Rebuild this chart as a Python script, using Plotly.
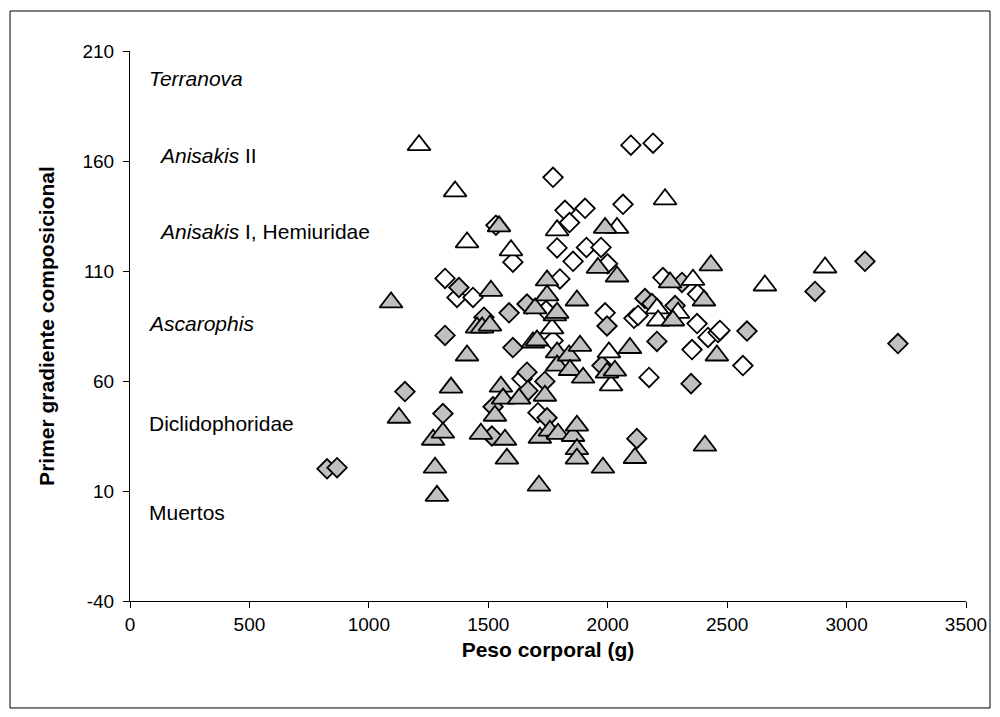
import plotly.graph_objects as go

# ---- data ----
gray_tri_x = [1093, 1126, 1269, 1277, 1285, 1310, 1344, 1411, 1453, 1474, 1507, 1511, 1469, 1528,
              1545, 1553, 1562, 1570, 1578, 1629, 1687, 1704, 1696, 1712, 1716, 1737, 1746, 1746,
              1758, 1779, 1788, 1788, 1788, 1792, 1838, 1842, 1855, 1871, 1871, 1871, 1871, 1884,
              1897, 1959, 1980, 1989, 1997, 2030, 2039, 2093, 2114, 2261, 2273, 2403, 2407, 2432,
              2457]
gray_tri_y = [95.7, 43.3, 33.3, 20.6, 7.8, 36.5, 57.0, 71.6, 84.3, 84.3, 85.2, 101.0, 36.0, 44.2,
              130.3, 57.4, 52.0, 33.3, 24.7, 52.0, 77.5, 78.4, 93.0, 12.4, 34.2, 53.3, 105.7, 98.9,
              37.4, 89.8, 91.0, 73.0, 67.0, 36.0, 71.6, 65.0, 35.0, 39.7, 29.0, 24.7, 96.6, 76.0,
              61.5, 111.4, 20.6, 129.6, 63.8, 64.7, 107.5, 75.0, 25.0, 104.8, 87.5, 96.6, 30.6, 112.6,
              71.6]

open_tri_x = [1210, 1361, 1411, 1595, 1767, 1788, 2005, 2014, 2039, 2206, 2211, 2240, 2294, 2357,
              2658, 2910]
open_tri_y = [167.2, 146.2, 123.0, 119.4, 83.9, 128.5, 73.0, 58.0, 129.6, 93.0, 87.5, 142.6, 91.0,
              106.0, 103.4, 111.6]

gray_dia_x = [825, 867, 1151, 1310, 1319, 1377, 1482, 1515, 1520, 1587, 1603, 1662, 1662, 1666,
              1737, 1746, 1976, 1997, 2122, 2156, 2185, 2206, 2282, 2311, 2349, 2583, 2868, 3077,
              3215]
gray_dia_y = [20.1, 20.6, 55.2, 45.2, 80.7, 102.5, 89.0, 35.0, 48.3, 91.0, 75.2, 95.0, 64.0, 55.6,
              59.8, 43.3, 67.0, 85.0, 33.8, 97.5, 95.2, 78.0, 94.3, 104.8, 58.8, 82.7, 100.7, 114.4,
              77.0]

open_dia_x = [1319, 1369, 1436, 1532, 1603, 1641, 1708, 1742, 1771, 1771, 1788, 1800, 1821, 1840,
              1855, 1905, 1911, 1972, 1989, 1999, 2064, 2097, 2110, 2127, 2173, 2190, 2231, 2353,
              2374, 2376, 2420, 2462, 2470, 2566]
open_dia_y = [106.6, 98.0, 98.0, 130.8, 114.0, 61.0, 45.6, 92.0, 152.6, 78.4, 120.5, 106.4, 137.6,
              132.0, 114.4, 138.5, 120.7, 120.7, 91.0, 113.3, 140.3, 167.2, 88.5, 89.8, 61.6, 168.1,
              107.0, 74.3, 86.1, 99.5, 79.8, 82.0, 83.0, 67.0]

x_ticks = [0, 500, 1000, 1500, 2000, 2500, 3000, 3500]
x_tick_text = ["0", "500", "1000", "1500", "2000", "2500", "3000", "3500"]
y_ticks = [-40, 10, 60, 110, 160, 210]
y_tick_text = ["-40", "10", "60", "110", "160", "210"]

label_texts = ["<i>Terranova</i>", "<i>Anisakis</i> II", "<i>Anisakis</i> I, Hemiuridae",
               "<i>Ascarophis</i>", "Diclidophoridae", "Muertos"]
label_x = [72, 115, 111, 68, 72, 72]
label_y = [197.3, 162.6, 128.0, 86.1, 40.6, 0.1]

GRAY = "#C0C0C0"
FONT = "Liberation Sans, Arial, sans-serif"

fig = go.Figure()

def add(xs, ys, symbol, fill, size):
    fig.add_trace(go.Scatter(
        x=xs, y=ys, mode="markers",
        marker=dict(symbol=symbol, size=size, color=fill,
                    line=dict(color="black", width=1.8)),
        showlegend=False, hoverinfo="x+y"))

add(open_dia_x, open_dia_y, "diamond", "white", 15)
add(gray_dia_x, gray_dia_y, "diamond", GRAY, 15)
add(open_tri_x, open_tri_y, "triangle-up", "white", 20)
add(gray_tri_x, gray_tri_y, "triangle-up", GRAY, 20)

for t, lx, ly in zip(label_texts, label_x, label_y):
    fig.add_annotation(x=lx, y=ly, xref="x", yref="y", text=t, showarrow=False,
                       xanchor="left", yanchor="middle",
                       font=dict(family=FONT, size=21, color="black"))

# outer chart frame
fig.add_shape(type="rect", xref="paper", yref="paper",
              x0=-0.1435, x1=1.0287, y0=-0.1945, y1=1.0727,
              line=dict(color="black", width=1), fillcolor="rgba(0,0,0,0)", layer="below")

fig.update_layout(
    width=984, height=701,
    margin=dict(l=122, r=26, t=43, b=108, autoexpand=False),
    paper_bgcolor="white", plot_bgcolor="white",
    font=dict(family=FONT, size=19, color="black"),
    xaxis=dict(range=[0, 3500], tickvals=x_ticks, ticktext=x_tick_text, showline=True,
               linecolor="black", linewidth=1, automargin=False,
               ticks="outside", ticklen=6, tickcolor="black", showgrid=False, zeroline=False,
               title=dict(text="<b>Peso corporal (g)</b>", font=dict(size=21), standoff=8),
               tickfont=dict(size=19)),
    yaxis=dict(range=[-40, 210], tickvals=y_ticks, ticktext=y_tick_text, showline=True,
               linecolor="black", linewidth=1, automargin=False,
               ticks="outside", ticklen=6, tickcolor="black", showgrid=False, zeroline=False,
               ticklabelstandoff=5,
               title=dict(text="<b>Primer gradiente composicional</b>", font=dict(size=21), standoff=22),
               tickfont=dict(size=19)),
)

fig.write_html("out.html")
